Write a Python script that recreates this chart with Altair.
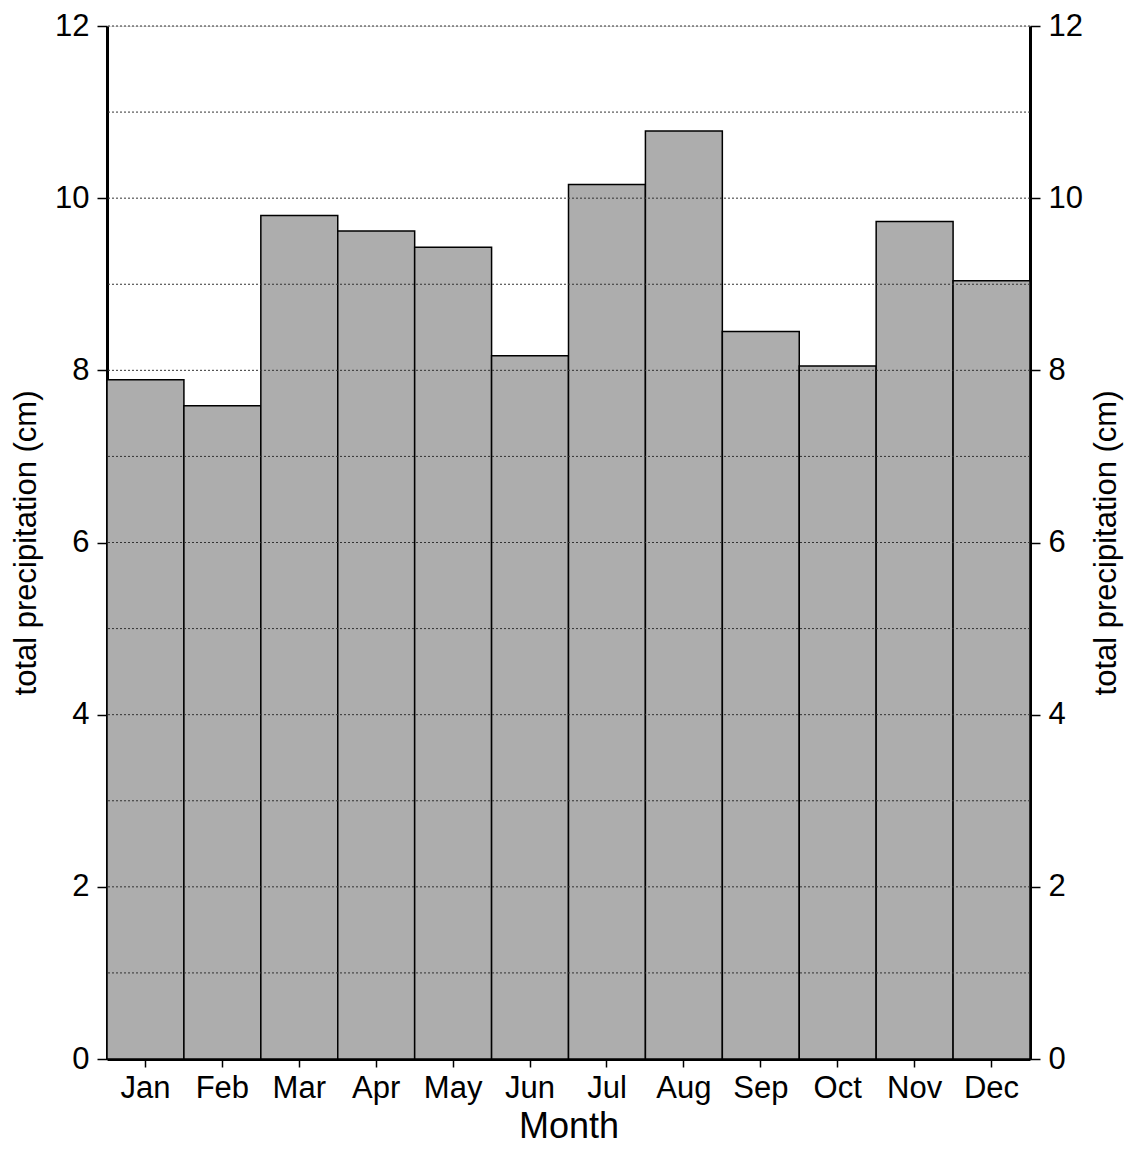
import altair as alt
import pandas as pd

months = ["Jan", "Feb", "Mar", "Apr", "May", "Jun", "Jul", "Aug", "Sep", "Oct", "Nov", "Dec"]
precip = [7.89, 7.59, 9.80, 9.62, 9.43, 8.17, 10.16, 10.78, 8.45, 8.05, 9.73, 9.04]
grid_values = [1, 2, 3, 4, 5, 6, 7, 8, 9, 10, 11, 12]
y_ticks = [0, 2, 4, 6, 8, 10, 12]

df = pd.DataFrame({"month": months, "precip": precip})
grid_df = pd.DataFrame({"g": grid_values})

FONT = "Liberation Sans"
yscale = alt.Scale(domain=[0, 12], nice=False, zero=True)

bars = alt.Chart(df).mark_bar(
    fill="#adadad", stroke="#000000", strokeWidth=1.5
).encode(
    x=alt.X("month:N", sort=months, title="Month",
            scale=alt.Scale(paddingInner=0, paddingOuter=0),
            axis=alt.Axis(labelAngle=0, labelFont=FONT, labelFontSize=31, labelColor="#000",
                          titleFont=FONT, titleFontSize=36, titleFontWeight="normal", titleColor="#000",
                          titlePadding=6, labelPadding=6,
                          domainColor="#000", domainWidth=3, tickColor="#000", tickSize=8, tickWidth=1.5)),
    y=alt.Y("precip:Q", scale=yscale, title="total precipitation (cm)",
            axis=alt.Axis(values=y_ticks, grid=False, orient="left",
                          labelFont=FONT, labelFontSize=31, labelColor="#000", labelPadding=8,
                          titleFont=FONT, titleFontSize=31, titleFontWeight="normal", titleColor="#000",
                          titlePadding=12,
                          domainColor="#000", domainWidth=3, tickColor="#000", tickSize=10, tickWidth=1.5)),
)

grid = alt.Chart(grid_df).mark_rule(
    stroke="#333333", strokeWidth=1, strokeDash=[2, 2]
).encode(
    y=alt.Y("g:Q", scale=yscale, title="total precipitation (cm)",
            axis=alt.Axis(values=y_ticks, grid=False, orient="right",
                          labelFont=FONT, labelFontSize=31, labelColor="#000", labelPadding=8,
                          titleFont=FONT, titleFontSize=31, titleFontWeight="normal", titleColor="#000",
                          titlePadding=40, titleAngle=270,
                          domainColor="#000", domainWidth=3, tickColor="#000", tickSize=10, tickWidth=1.5)),
)

chart = alt.layer(bars, grid).resolve_scale(y="independent").properties(
    width=923, height=1033,
    padding={"left": 2, "top": 2, "right": 2, "bottom": 5},
).configure_view(stroke=None).configure(background="white")

chart.save("out.html", embed_options={"renderer": "svg", "actions": False})
